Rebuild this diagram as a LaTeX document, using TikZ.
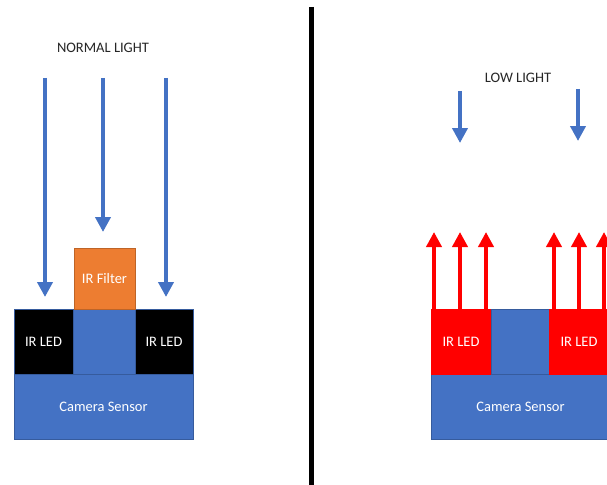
\documentclass[tikz,border=0pt]{standalone}
\usepackage{fontspec}
\setmainfont{Carlito}
\usetikzlibrary{arrows.meta}
\definecolor{obblue}{HTML}{4472C4}
\definecolor{oborange}{HTML}{ED7D31}
\definecolor{obred}{HTML}{FF0000}
\definecolor{obtext}{HTML}{262626}
\tikzset{
  box/.style={draw=obblue!80!black, line width=0.6pt, inner sep=0pt, minimum height=65pt, text=white, font=\fontsize{14.5}{16}\selectfont},
  sensorbox/.style={box, fill=obblue},
  ledbox/.style={box, fill=black},
  redled/.style={box, fill=obred, draw=obred},
  midbox/.style={box, fill=obblue},
  filterbox/.style={box, fill=oborange, draw=oborange!80!black},
  lightray/.style={obblue, line width=4pt, -{Triangle[width=15pt,length=15pt]}},
  irray/.style={obred, line width=4pt, -{Triangle[width=15pt,length=15pt]}},
  heading/.style={text=obtext, font=\fontsize{14.5}{16}\selectfont, inner sep=0pt},
}
\begin{document}
\begin{tikzpicture}[x=1pt, y=-1pt]
\useasboundingbox (0,0) rectangle (607,484);
\fill[white] (0,0) rectangle (607,484);

% divider
\coordinate (divtop) at (311,7);
\coordinate (divbot) at (311,490);
\draw[black, line width=5pt] (divtop) -- (divbot);

% ---------- left: normal light ----------
\node[heading] (normal) at (103,48) {NORMAL LIGHT};
\node[sensorbox, minimum width=179pt] (sensorL) at (103.5,406.5) {Camera Sensor};
\node[ledbox, minimum width=59pt] (ledL1) at (43.5,341.5) {IR LED};
\node[midbox, minimum width=62pt] (midL) at (104,341.5) {};
\node[ledbox, minimum width=58pt] (ledL2) at (164,341.5) {IR LED};
\node[filterbox, minimum width=61pt, minimum height=61pt] (filter) at (104.5,278.5) {IR Filter};

\coordinate (la1) at (45,78);  \coordinate (lb1) at (45,297);
\coordinate (la2) at (103,78); \coordinate (lb2) at (103,232);
\coordinate (la3) at (166,78); \coordinate (lb3) at (166,297);
\draw[lightray] (la1) -- (lb1);
\draw[lightray] (la2) -- (lb2);
\draw[lightray] (la3) -- (lb3);

% ---------- right: low light ----------
\node[heading] (low) at (518,78) {LOW LIGHT};
\node[sensorbox, minimum width=179pt] (sensorR) at (520.5,406.5) {Camera Sensor};
\node[redled, minimum width=60pt] (ledR1) at (461,341.5) {IR LED};
\node[midbox, minimum width=58pt] (midR) at (520,341.5) {};
\node[redled, minimum width=60pt] (ledR2) at (579,341.5) {IR LED};

\coordinate (ra1) at (460,91);  \coordinate (rb1) at (460,143);
\coordinate (ra2) at (578,89);  \coordinate (rb2) at (578,141);
\draw[lightray] (ra1) -- (rb1);
\draw[lightray] (ra2) -- (rb2);

\foreach \x [count=\i] in {434,460,486,554,579,604} {
  \coordinate (ira\i) at (\x,309);
  \coordinate (irb\i) at (\x,232);
  \draw[irray] (ira\i) -- (irb\i);
}
\end{tikzpicture}
\end{document}
